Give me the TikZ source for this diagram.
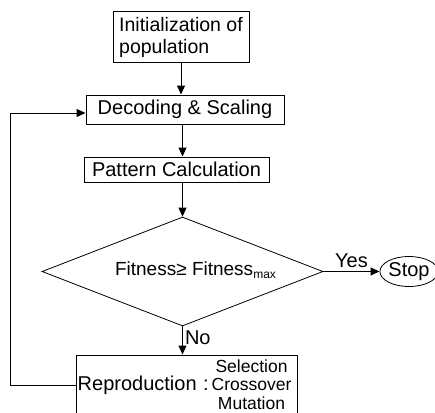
\documentclass[tikz,border=0pt]{standalone}
\usepackage{fontspec}
\setmainfont{Liberation Sans}
\usetikzlibrary{arrows.meta,shapes.geometric}
\tikzset{
  box/.style={draw, line width=1pt, inner sep=0pt, font=\fontsize{20}{22}\selectfont},
  txt/.style={inner sep=0pt, font=\fontsize{20}{22}\selectfont},
  small/.style={inner sep=0pt, align=center, font=\fontsize{17.5}{18.5}\selectfont},
  arr/.style={line width=1pt, -{Triangle[length=9pt,width=8pt]}},
  conn/.style={line width=1pt}
}
\begin{document}
\begin{tikzpicture}[x=1pt,y=-1pt]
\useasboundingbox (0,0) rectangle (435,412);
\node[box, minimum width=136pt, minimum height=50pt, align=left, font=\fontsize{19.5}{22}\selectfont] (init) at (181,37) {Initialization of\\population};
\node[box, minimum width=198pt, minimum height=29pt] (dec) at (185,109.5) {Decoding \& Scaling};
\node[box, minimum width=185pt, minimum height=25pt] (pat) at (176.5,169.5) {Pattern Calculation};
\node[draw, diamond, line width=0.8pt, inner sep=0pt, minimum width=281pt, minimum height=109pt] (dia) at (182.5,271.5) {};
\node[inner sep=0pt, font=\fontsize{19}{21}\selectfont] (ft) at (195.5,270) {Fitness≥ Fitness\raisebox{-3pt}{\fontsize{12}{12}\selectfont max}};
\node[draw, ellipse, line width=0.8pt, inner sep=0pt, minimum width=49pt, minimum height=30pt, txt] (stop) at (409,271.5) {Stop};
\node[box, minimum width=221pt, minimum height=60pt] (rep) at (186.5,385) {};
\node[txt, anchor=west] (rtxt) at (77.5,385) {Reproduction};
\node[txt] (colon) at (206,385) {:};
\node[small] (ops) at (251.5,384.5) {Selection\\Crossover\\Mutation};
\coordinate (fb) at (10,385);
\draw[arr] (init.south) -- (init.south |- dec.north);
\draw[arr] (dec.south -| dia.north) -- (pat.north -| dia.north);
\draw[arr] (pat.south -| dia.north) -- (dia.north);
\draw[arr] (dia.east) -- node[txt, above=3pt] (yes) {Yes} (stop.west);
\draw[arr] (dia.south) -- node[txt, pos=0.42, right=2pt] (no) {No} (dia.south |- rep.north);
\draw[arr] (rep.west) -- (fb) |- ([yshift=-3.5pt]dec.west);
\end{tikzpicture}
\end{document}
